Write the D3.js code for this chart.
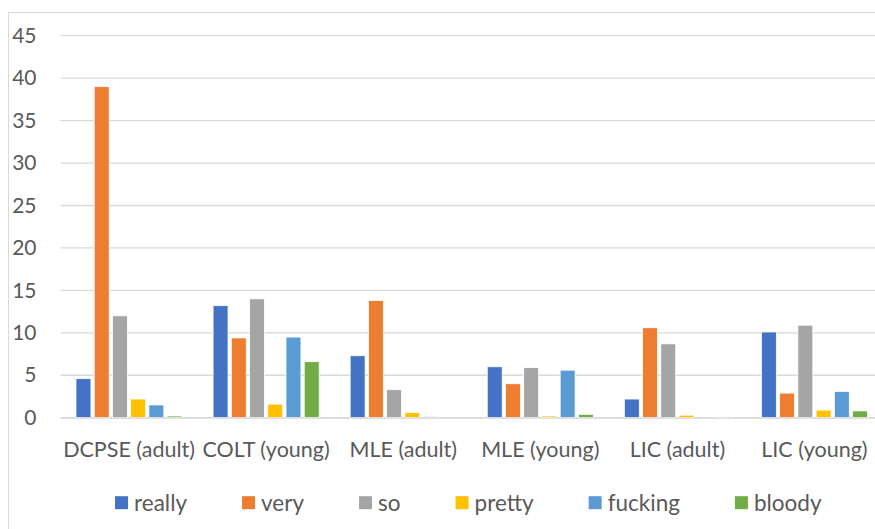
<!DOCTYPE html>
<html><head><meta charset="utf-8">
<script src="https://cdn.jsdelivr.net/npm/d3@7"></script>
<style>body{margin:0;background:#fff}svg{display:block}text{font-family:Lato,"Open Sans",sans-serif;fill:#595959}</style>
</head><body>
<script>
const categories = ["DCPSE (adult)","COLT (young)","MLE (adult)","MLE (young)","LIC (adult)","LIC (young)"];
const seriesNames = ["really","very","so","pretty","fucking","bloody"];
const colors = ["#4472C4","#ED7D31","#A5A5A5","#FFC000","#5B9BD5","#70AD47"];
const really  = [4.6, 13.2, 7.3, 6.0, 2.2, 10.1];
const very    = [39.0, 9.4, 13.8, 4.0, 10.6, 2.9];
const so      = [12.0, 14.0, 3.3, 5.9, 8.7, 10.9];
const pretty  = [2.2, 1.6, 0.6, 0.2, 0.3, 0.9];
const fucking = [1.5, 9.5, 0.15, 5.6, 0, 3.1];
const bloody  = [0.2, 6.6, 0, 0.4, 0.1, 0.8];
const seriesValues = [really, very, so, pretty, fucking, bloody];
const yTicks = [0,5,10,15,20,25,30,35,40,45];

const W = 875, H = 529;
const svg = d3.select("body").append("svg").attr("width", W).attr("height", H);
svg.append("rect").attr("x", 8.5).attr("y", 12.5).attr("width", W).attr("height", H)
  .attr("fill", "none").attr("stroke", "#d9d9d9").attr("stroke-width", 1);

const mLeft = 60.5, mRight = 883, mTop = 35.7, mBottom = 417.7;
const x0 = d3.scaleBand().domain(categories).range([mLeft, mRight]).paddingInner(0.226).paddingOuter(0.113);
const x1 = d3.scaleBand().domain(seriesNames).range([0, x0.bandwidth()]).paddingInner(0.18);
const y = d3.scaleLinear().domain([0, 45]).range([mBottom, mTop]);

const grid = svg.append("g");
grid.selectAll("line").data(yTicks).join("line")
  .attr("x1", mLeft).attr("x2", mRight)
  .attr("y1", d => y(d)).attr("y2", d => y(d))
  .attr("stroke", "#d9d9d9").attr("stroke-width", 1.3);

const yAxis = svg.append("g").attr("transform", `translate(${mLeft},0)`)
  .call(d3.axisLeft(y).tickValues(yTicks).tickSize(0).tickPadding(24));
yAxis.select(".domain").remove();
yAxis.selectAll("text").style("font-size", "21px").attr("text-anchor", "end").attr("fill", "#595959");

const groups = svg.append("g").selectAll("g").data(categories).join("g")
  .attr("transform", d => `translate(${x0(d)},0)`);
groups.selectAll("rect").data((c, i) => seriesNames.map((s, j) => ({s, v: seriesValues[j][i], c: colors[j]})))
  .join("rect")
  .attr("x", d => x1(d.s)).attr("width", x1.bandwidth())
  .attr("y", d => y(d.v)).attr("height", d => y(0) - y(d.v))
  .attr("fill", d => d.c).attr("stroke", "#fff").attr("stroke-width", 0.8);

const xAxis = svg.append("g").attr("transform", `translate(0,${mBottom})`)
  .call(d3.axisBottom(x0).tickSize(0).tickPadding(24));
xAxis.select(".domain").attr("stroke", "#d9d9d9").attr("stroke-width", 1.3);
xAxis.selectAll("text").style("font-size", "21.5px").attr("fill", "#595959");

// legend: measured layout, centred
const sq = 13, txtGap = 6, itemGap = 55, legCenter = 468.3, legY = 502.7;
const leg = svg.append("g");
const items = leg.selectAll("g").data(seriesNames).join("g");
items.append("rect").attr("x", 0).attr("y", -sq / 2).attr("width", sq).attr("height", sq).attr("fill", (d, i) => colors[i]);
items.append("text").attr("x", sq + txtGap).attr("y", 0).attr("dy", "0.35em").style("font-size", "22.5px").text(d => d);
let cx = 0;
const offs = [];
items.each(function () {
  offs.push(cx);
  const w = d3.select(this).select("text").node().getComputedTextLength();
  cx += sq + txtGap + w + itemGap;
});
const totalW = cx - itemGap;
const startX = legCenter - totalW / 2;
items.attr("transform", (d, i) => `translate(${startX + offs[i]},${legY})`);
</script>
</body></html>
